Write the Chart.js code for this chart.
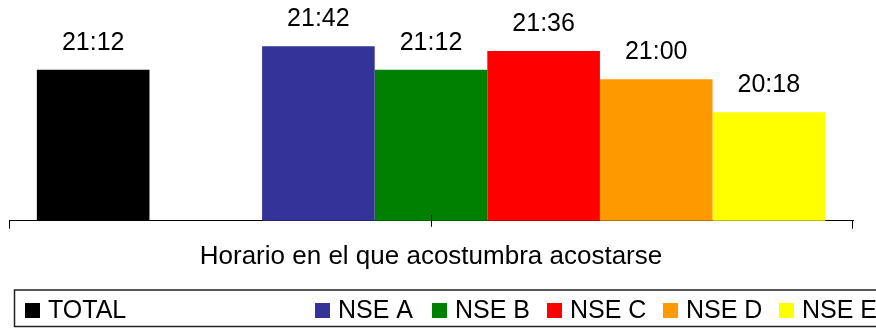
<!DOCTYPE html>
<html>
<head>
<meta charset="utf-8">
<script src="https://cdn.jsdelivr.net/npm/chart.js@4.4.1/dist/chart.umd.min.js"></script>
<style>
  html, body { margin: 0; padding: 0; background: #fff; }
</style>
</head>
<body>
<canvas id="horarioChart" width="876" height="328"></canvas>
<script>
// Single category on the X axis.
var categories = ['Horario en el que acostumbra acostarse'];

// Series names (the 2nd one is an empty spacer, like in the original sheet).
var seriesNames = ['TOTAL', '', 'NSE A', 'NSE B', 'NSE C', 'NSE D', 'NSE E'];

// Usual bedtime per series (hh:mm).
var seriesTimes = ['21:12', null, '21:42', '21:12', '21:36', '21:00', '20:18'];

// Bar colours.
var seriesColors = ['#000000', 'rgba(0,0,0,0)', '#333399', '#008000', '#ff0000', '#ff9900', '#ffff00'];

// Value axis range (hidden axis).
var axisMinTime = '18:00';
var axisMaxTime = '22:00';

var FONT = '"Liberation Sans", Arial, sans-serif';

// 'hh:mm' -> minutes after midnight
function toMinutes(t) {
    if (t === null) return null;
    var p = t.split(':');
    return parseInt(p[0], 10) * 60 + parseInt(p[1], 10);
}

// Labels above every bar.
var valueLabels = {
    id: 'valueLabels',
    afterDatasetsDraw: function (chart) {
        var ctx = chart.ctx;
        ctx.save();
        ctx.font = '25px ' + FONT;
        ctx.fillStyle = '#000';
        ctx.textAlign = 'center';
        ctx.textBaseline = 'alphabetic';
        chart.data.datasets.forEach(function (ds, i) {
            var meta = chart.getDatasetMeta(i);
            meta.data.forEach(function (bar, j) {
                if (ds.times[j] === null) return;
                ctx.fillText(ds.times[j], bar.x, bar.y - 20);
            });
        });
        ctx.restore();
    }
};

// Tick marks: both ends go down, middle one crosses the axis line.
var axisTicks = {
    id: 'axisTicks',
    afterDraw: function (chart) {
        var sc = chart.scales.x;
        var ctx = chart.ctx;
        var y = sc.top;
        var l = Math.round(sc.left) + 0.5;
        var r = Math.round(sc.right) - 0.5;
        var m = Math.round(sc.getPixelForValue(0)) + 0.5;
        ctx.save();
        ctx.strokeStyle = '#000';
        ctx.lineWidth = 1;
        ctx.beginPath();
        ctx.moveTo(l, y); ctx.lineTo(l, y + 8);
        ctx.moveTo(r, y); ctx.lineTo(r, y + 8);
        ctx.moveTo(m, y - 6); ctx.lineTo(m, y + 6);
        ctx.stroke();
        ctx.restore();
    }
};

// Boxed legend at the bottom, running off the right edge like the original.
var boxLegend = {
    id: 'boxLegend',
    afterDraw: function (chart, args, opts) {
        var ctx = chart.ctx;
        ctx.save();
        ctx.strokeStyle = '#222';
        ctx.lineWidth = 1.5;
        ctx.strokeRect(14.5, 290, 900, 36.5);
        ctx.font = '25px ' + FONT;
        ctx.textBaseline = 'alphabetic';
        ctx.textAlign = 'left';
        chart.data.datasets.forEach(function (ds, i) {
            if (!ds.label) return;
            var x = opts.itemX[i];
            ctx.fillStyle = ds.backgroundColor;
            ctx.fillRect(x, 303, 15, 15);
            ctx.fillStyle = '#000';
            ctx.fillText(ds.label, x + 23, 318);
        });
        ctx.restore();
    }
};

Chart.defaults.font.family = FONT;

var datasets = seriesNames.map(function (name, i) {
    return {
        label: name,
        data: [toMinutes(seriesTimes[i])],
        times: [seriesTimes[i]],
        backgroundColor: seriesColors[i],
        borderWidth: 0,
        barPercentage: 1.0,
        categoryPercentage: 0.934
    };
});

var ctx = document.getElementById('horarioChart').getContext('2d');
var chart = new Chart(ctx, {
    type: 'bar',
    data: {
        labels: categories,
        datasets: datasets
    },
    options: {
        responsive: false,
        animation: false,
        layout: { padding: { top: 32, left: 9, right: 23, bottom: 36 } },
        plugins: {
            legend: { display: false },
            tooltip: { enabled: false },
            boxLegend: { itemX: [25, null, 315, 432, 547, 663, 779] }
        },
        scales: {
            x: {
                grid: { display: false, drawTicks: false },
                border: { display: true, color: '#000', width: 1 },
                ticks: {
                    color: '#000',
                    font: { size: 26 },
                    padding: 20,
                    maxRotation: 0,
                    autoSkip: false
                }
            },
            y: {
                display: false,
                min: toMinutes(axisMinTime),
                max: toMinutes(axisMaxTime)
            }
        }
    },
    plugins: [valueLabels, axisTicks, boxLegend]
});
</script>
</body>
</html>
